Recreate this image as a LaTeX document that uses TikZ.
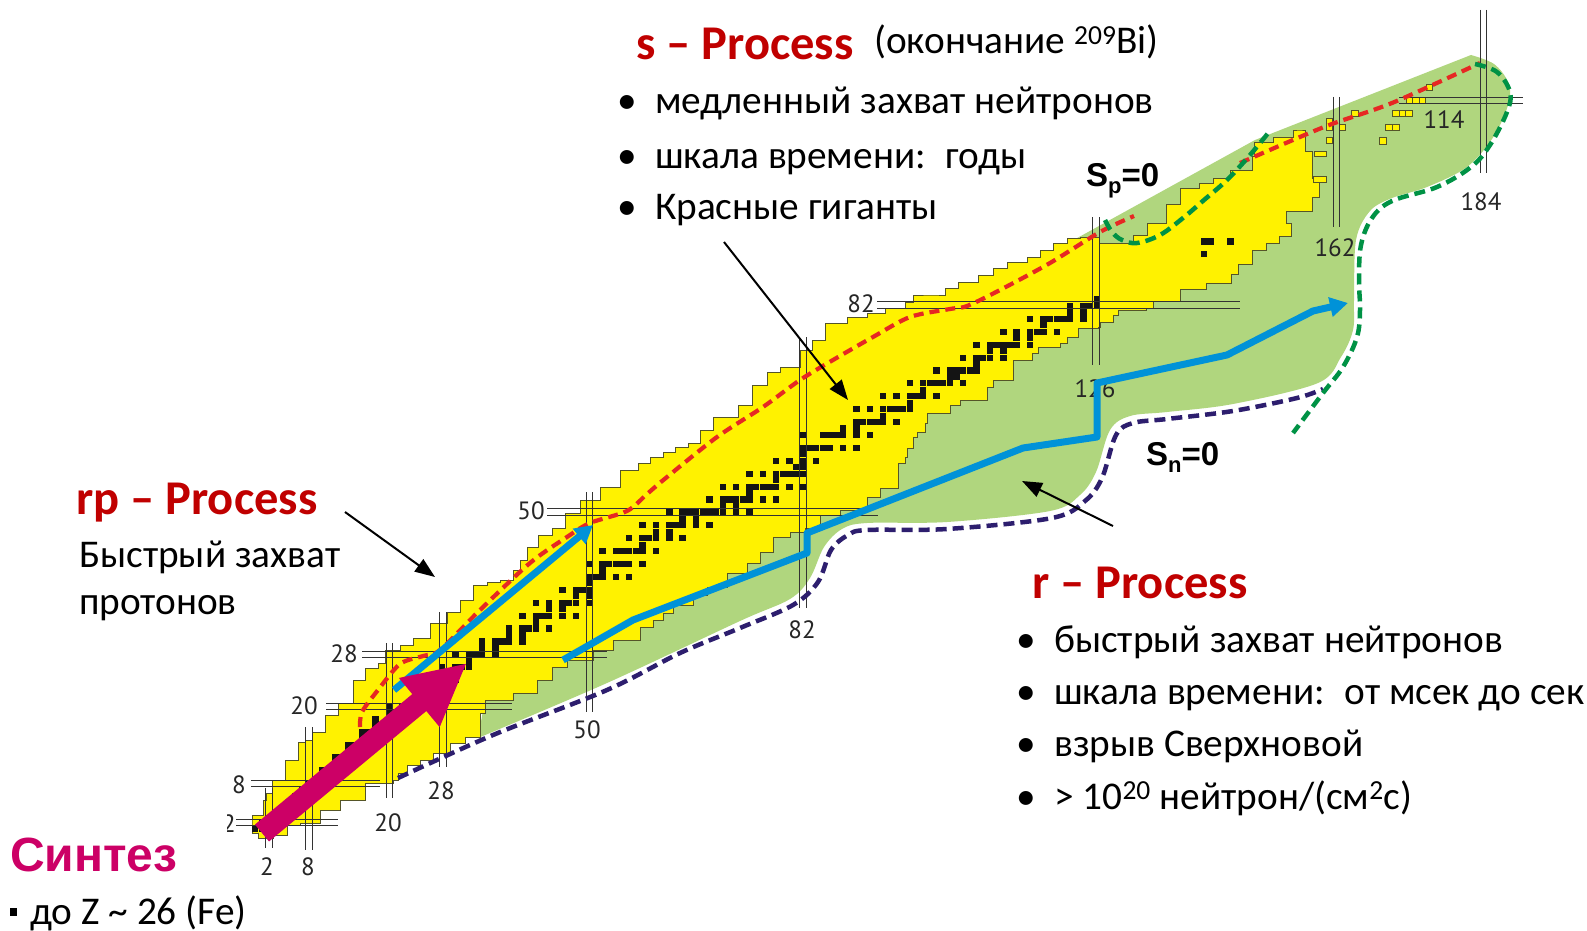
\documentclass[tikz,border=0pt]{standalone}
\usepackage{fontspec}
\setmainfont{Carlito}
\newfontfamily\arialfont{Liberation Sans}
\newfontfamily\numfont{PT Sans}
\usetikzlibrary{arrows.meta}
\definecolor{chartyellow}{RGB}{255,242,0}
\definecolor{chartgreen}{RGB}{176,214,126}
\definecolor{yedge}{RGB}{85,85,40}
\definecolor{reddash}{RGB}{230,40,35}
\definecolor{greendash}{RGB}{0,146,69}
\definecolor{navydash}{RGB}{45,30,110}
\definecolor{pathblue}{RGB}{0,146,216}
\definecolor{synmag}{RGB}{204,0,102}
\definecolor{procred}{RGB}{192,0,0}
\newcommand{\procbullet}{\makebox[38pt][l]{•}}
\tikzset{
  magicline/.style={draw=black!80, line width=0.8pt},
  magiclabel/.style={font=\numfont\fontsize{25}{25}\selectfont, text=black!85, inner sep=0pt},
  proctitle/.style={font=\bfseries\fontsize{48.5}{52}\selectfont, text=procred, inner sep=0pt, anchor=base west},
  bodytext/.style={font=\fontsize{39.3}{44}\selectfont, inner sep=0pt, anchor=base west},
  sepline/.style={font=\arialfont\bfseries\fontsize{33}{33}\selectfont, inner sep=0pt, anchor=base west},
  pointer/.style={draw=black, line width=2pt, -{Triangle[length=20pt,width=15pt]}},
  bluepath/.style={draw=pathblue, line width=7pt, line join=round, -{Triangle[length=18pt,width=19pt]}},
  redline/.style={draw=reddash, line width=4.2pt, dash pattern=on 10pt off 6pt},
  greenline/.style={draw=greendash, line width=4.5pt, dash pattern=on 11pt off 6pt},
  navyline/.style={draw=navydash, line width=4.5pt, dash pattern=on 11pt off 6pt},
  knowncell/.style={fill=chartyellow, draw=yedge, line width=0.9pt},
}
\begin{document}
\begin{tikzpicture}[x=1pt,y=-1pt]
\useasboundingbox (0,0) rectangle (1587,931);
\fill[white] (0,0) rectangle (1587,931);

% green region (r-process area)
\fill[chartgreen] plot[smooth, tension=0.55] coordinates {(478,738) (607,683) (740,621) (790,599) (810,578) (824,547) (842,529) (867,523) (947,522) (1050,511) (1080,495) (1096,472) (1110,430) (1130,416) (1167,412) (1233,404) (1318,383) (1341,357) (1353,330) (1354,300) (1356,240) (1370,211) (1392,198) (1427,187) (1467,167) (1494,136) (1509,102) (1508,82) (1494,64) (1471,55)} -- (1255,140) -- (1050,253) -- (1000,288) -- (900,332) -- (600,600) -- (485,700) -- cycle;

% yellow region (known nuclei)
\filldraw[knowncell] (252,833) |- (252,822) |- (263,815) |- (266,800) |- (272,793) |- (285,780) |- (298,760) |- (305,742) |- (312,740) |- (325,732) |- (338,715) |- (353,703) |- (365,680) |- (378,668) |- (385,663) |- (400,650) |- (413,645) |- (430,638) |- (447,623) |- (460,612) |- (473,600) |- (487,585) |- (500,582) |- (513,580) |- (520,570) |- (527,560) |- (538,547) |- (552,535) |- (565,528) |- (580,513) |- (600,500) |- (620,487) |- (638,470) |- (650,463) |- (663,457) |- (675,452) |- (688,447) |- (700,443) |- (713,430) |- (738,417) |- (752,405) |- (767,385) |- (780,372) |- (800,367) |- (812,350) |- (825,340) |- (847,323) |- (867,317) |- (885,313) |- (905,308) |- (913,302) |- (933,295) |- (945,295) |- (958,288) |- (978,282) |- (993,275) |- (1007,268) |- (1027,262) |- (1040,257) |- (1053,250) |- (1067,243) |- (1080,238) |- (1099,237) |- (1133,243) |- (1147,235) |- (1166,223) |- (1180,204) |- (1199,188) |- (1213,183) |- (1230,178) |- (1252,170) |- (1254,156) |- (1273,142) |- (1293,137) |- (1300,130) |- (1305,130)
 |- (1312,151) |- (1319,178) |- (1312,197) |- (1286,211) |- (1291,223) |- (1279,236) |- (1266,243) |- (1252,250) |- (1238,264) |- (1231,274) |- (1206,283) |- (1180,289) |- (1153,301) |- (1146,308) |- (1118,310) |- (1113,315) |- (1100,322) |- (1098,327) |- (1078,328) |- (1067,337) |- (1060,343) |- (1038,347) |- (1032,353) |- (1013,360) |- (993,380) |- (987,387) |- (960,400) |- (950,405) |- (927,413) |- (925,423) |- (917,432) |- (913,437) |- (907,448) |- (905,457) |- (898,463) |- (880,488) |- (867,497) |- (840,510) |- (820,515) |- (805,528) |- (790,532) |- (773,537) |- (760,552) |- (747,563) |- (727,573) |- (707,587) |- (693,595) |- (673,605) |- (663,613) |- (653,620) |- (640,627) |- (613,640) |- (593,650) |- (567,660) |- (552,667) |- (537,680) |- (513,693) |- (485,700) |- (480,713) |- (465,737) |- (450,743) |- (433,753) |- (420,760) |- (407,765) |- (398,773) |- (393,780) |- (365,783) |- (340,800) |- (320,810) |- (300,823) |- (287,825) |- (273,835) |- (258,838) |- (252,833) -- cycle;

% isolated superheavy cells
\foreach \xa/\ya/\xb/\yb in {1426/84/1432/90, 1406/97/1412/103, 1412/97/1419/103, 1419/97/1425/103, 1392/110/1399/116, 1399/110/1405/116, 1405/110/1412/116, 1385/124/1392/130, 1392/124/1399/130, 1379/137/1386/144, 1351/110/1358/116, 1339/124/1345/130, 1326/118/1332/130, 1326/137/1332/143, 1314/151/1326/156, 1313/176/1326/182}
  \filldraw[knowncell] (\xa,\ya) rectangle (\xb,\yb);

% stable nuclei (N,Z grid)
\begin{scope}[shift={(255.14,834.9)}, x=6.68pt, y=6.45pt]
\foreach \z/\ns in {1/{0,1},2/{1,2},3/{3,4},4/{5},5/{5,6},6/{6,7},7/{7,8},8/{8,9,10},9/{10},10/{10,11,12},11/{12},12/{12,13,14},13/{14},14/{14,15,16},15/{16},16/{16,17,18,20},17/{18,20},18/{18,20,22},19/{20,21,22},20/{20,22,23,24,26,28},21/{24},22/{24,25,26,27,28},23/{27,28},24/{26,28,29,30},25/{30},26/{28,30,31,32},27/{32},28/{30,32,33,34,36},29/{34,36},30/{34,36,37,38,40},31/{38,40},32/{38,40,41,42,44},33/{42},34/{40,42,43,44,46,48},35/{44,46},36/{42,44,46,47,48,50},37/{48,50},38/{46,48,49,50},39/{50},40/{50,51,52,54,56},41/{52},42/{50,52,53,54,55,56,58},44/{52,54,55,56,57,58,60},45/{58},46/{56,58,59,60,62,64},47/{60,62},48/{58,60,62,63,64,66,68},49/{64,66},50/{62,64,65,66,67,68,69,70,72,74},51/{70,72},52/{68,70,71,72,73,74,76,78},53/{74},54/{70,72,74,75,76,77,78,80,82},55/{78},56/{74,76,78,79,80,81,82},57/{81,82},58/{78,80,82,84},59/{82},60/{82,83,84,85,86,88,90},62/{82,85,86,87,88,90,92},63/{88,90},64/{90,91,92,93,94,96},65/{94},66/{90,92,94,95,96,97,98},67/{98},68/{94,96,98,99,100,102},69/{100},70/{98,100,101,102,103,104,106},71/{104,105},72/{102,104,105,106,107,108},73/{108},74/{106,108,109,110,112},75/{110,112},76/{108,110,111,112,113,114,116},77/{114,116},78/{112,114,116,117,118,120},79/{118},80/{116,118,119,120,121,122,124},81/{122,124},82/{122,124,125,126},83/{126},90/{142},92/{142,143,146}}
  {\foreach \n in \ns {\fill[black!92] (\n-0.48,\z-0.48) rectangle (\n+0.48,\z+0.48);}}
\end{scope}

% magic number lines
\foreach \xa/\xb/\ya/\yb in {265/272/788/848, 305/312/727/850, 386/392/643/798, 439/446/612/767, 586/592/492/712, 799/806/337/608, 1092/1099/217/365, 1333/1339/97/227, 1480/1486/10/173}
  {\draw[magicline] (\xa,\ya) -- (\xa,\yb); \draw[magicline] (\xb,\ya) -- (\xb,\yb);}
\foreach \ya/\yb/\xa/\xb in {819/825/236/338, 780/786/251/380, 703/709/326/512, 651/657/362/607, 508/515/547/878, 301/308/877/1240, 97/103/1399/1523}
  {\draw[magicline] (\xa,\ya) -- (\xb,\ya); \draw[magicline] (\xa,\yb) -- (\xb,\yb);}

% magic number labels
\begin{scope}
\clip (227,800) rectangle (250,845);
\node[magiclabel] (zl2) at (229,824) {2};
\end{scope}
\node[magiclabel] (zl8) at (239,785) {8};
\node[magiclabel] (zl20) at (304,706) {20};
\node[magiclabel] (zl28) at (344,654) {28};
\node[magiclabel] (zl50) at (531,511) {50};
\node[magiclabel] (zl82) at (861,304) {82};
\node[magiclabel] (zl114) at (1444,120) {114};
\node[magiclabel] (nl2) at (267,867) {2};
\node[magiclabel] (nl8) at (308,867) {8};
\node[magiclabel] (nl20) at (388,823) {20};
\node[magiclabel] (nl28) at (441,791) {28};
\node[magiclabel] (nl50) at (587,730) {50};
\node[magiclabel] (nl82) at (802,630) {82};
\node[magiclabel] (nl126) at (1095,389) {126};
\node[magiclabel] (nl162) at (1335,248) {162};
\node[magiclabel] (nl184) at (1481,202) {184};

% drip lines
\draw[navyline] plot[smooth, tension=0.55] coordinates {(398,778) (493,735) (607,690) (680,653) (740,628) (793,605) (818,582) (831,550) (848,535) (867,530) (947,529) (1052,518) (1085,501) (1102,478) (1116,435) (1133,423) (1167,419) (1233,411) (1297,398) (1323,389)};
\draw[redline] plot[smooth, tension=0.5] coordinates {(360,727) (362,712) (378,690) (400,664) (423,656) (440,650) (480,610) (530,563) (567,537) (590,523) (627,511) (647,494) (667,477) (717,437) (763,407) (800,380) (833,360) (873,337) (910,317) (950,309) (967,306) (1000,290) (1050,263) (1100,232) (1134,216)};
\draw[redline] plot[smooth] coordinates {(1240,163) (1324,127) (1392,103) (1480,63)};
\draw[greenline] plot[smooth, tension=0.6] coordinates {(1105,220) (1112,232) (1122,240) (1137,243) (1160,235) (1183,218) (1204,200) (1227,180) (1250,155) (1269,132)};
\draw[greenline] plot[smooth, tension=0.6] coordinates {(1475,64) (1497,72) (1510,92) (1507,112) (1490,145) (1471,167) (1437,187) (1392,201) (1372,218) (1361,245) (1359,280) (1360,310) (1357,337) (1343,367) (1323,393) (1293,433)};

% process paths
\coordinate (rpA) at (394,690);
\coordinate (rpB) at (593,525);
\draw[bluepath] (rpA) -- (rpB);
\coordinate (rA) at (563,660);
\coordinate (rB) at (633,620);
\coordinate (rC) at (807,553);
\coordinate (rD) at (807,533);
\coordinate (rE) at (1023,448);
\coordinate (rF) at (1097,437);
\coordinate (rG) at (1097,383);
\coordinate (rH) at (1227,355);
\coordinate (rI) at (1313,311);
\coordinate (rJ) at (1348,303);
\draw[bluepath] (rA) -- (rB) -- (rC) -- (rD) -- (rE) -- (rF) -- (rG) -- (rH) -- (rI) -- (rJ);

% fusion arrow
\coordinate (fusA) at (262,833);
\coordinate (fusB) at (467,663);
\draw[draw=synmag, line width=22pt, -{Triangle[width=59pt,length=62pt]}] (fusA) -- (fusB);

% pointers
\coordinate (sFrom) at (724,242);
\coordinate (sTo) at (848,400);
\draw[pointer] (sFrom) -- (sTo);
\coordinate (rpFrom) at (345,512);
\coordinate (rpTo) at (435,577);
\draw[pointer] (rpFrom) -- (rpTo);
\coordinate (rFrom) at (1113,526);
\coordinate (rTo) at (1022,481);
\draw[pointer] (rFrom) -- (rTo);

% texts
\node[proctitle] (stitle) at (636,60) {s – Process};
\node[bodytext] (snote) at (874,54) {(окончание \textsuperscript{209}Bi)};
\node[bodytext] (sb1) at (617,114) {\procbullet медленный захват нейтронов};
\node[bodytext] (sb2) at (617,168) {\procbullet шкала времени:\hspace{0.2em} годы};
\node[bodytext] (sb3) at (617,219) {\procbullet Красные гиганты};

\node[sepline] (spzero) at (1086,186) {S\raisebox{-0.22em}{\fontsize{22}{22}\selectfont p}=0};
\node[sepline] (snzero) at (1146,465) {S\raisebox{-0.22em}{\fontsize{22}{22}\selectfont n}=0};

\node[proctitle] (rptitle) at (76,514) {rp – Process};
\node[bodytext] (rp1) at (79,567) {Быстрый захват};
\node[bodytext] (rp2) at (79,614) {протонов};

\node[proctitle] (rtitle) at (1032,598) {r – Process};
\node[bodytext] (rb1) at (1016,652) {\procbullet быстрый захват нейтронов};
\node[bodytext] (rb2) at (1016,704) {\procbullet шкала времени:\hspace{0.2em} от мсек до сек};
\node[bodytext] (rb3) at (1016,756) {\procbullet взрыв Сверхновой};
\node[bodytext] (rb4) at (1016,809) {\procbullet > 10\textsuperscript{20} нейтрон/(см\textsuperscript{2}с)};

\node[font=\arialfont\bfseries\fontsize{48}{48}\selectfont, text=synmag, inner sep=0pt, anchor=base west] (syn) at (10,871) {Синтез};
\fill (10,908) rectangle (17,916);
\node[bodytext] (synnote) at (30,924) {до Z \textasciitilde{} 26 (Fe)};
\end{tikzpicture}
\end{document}
